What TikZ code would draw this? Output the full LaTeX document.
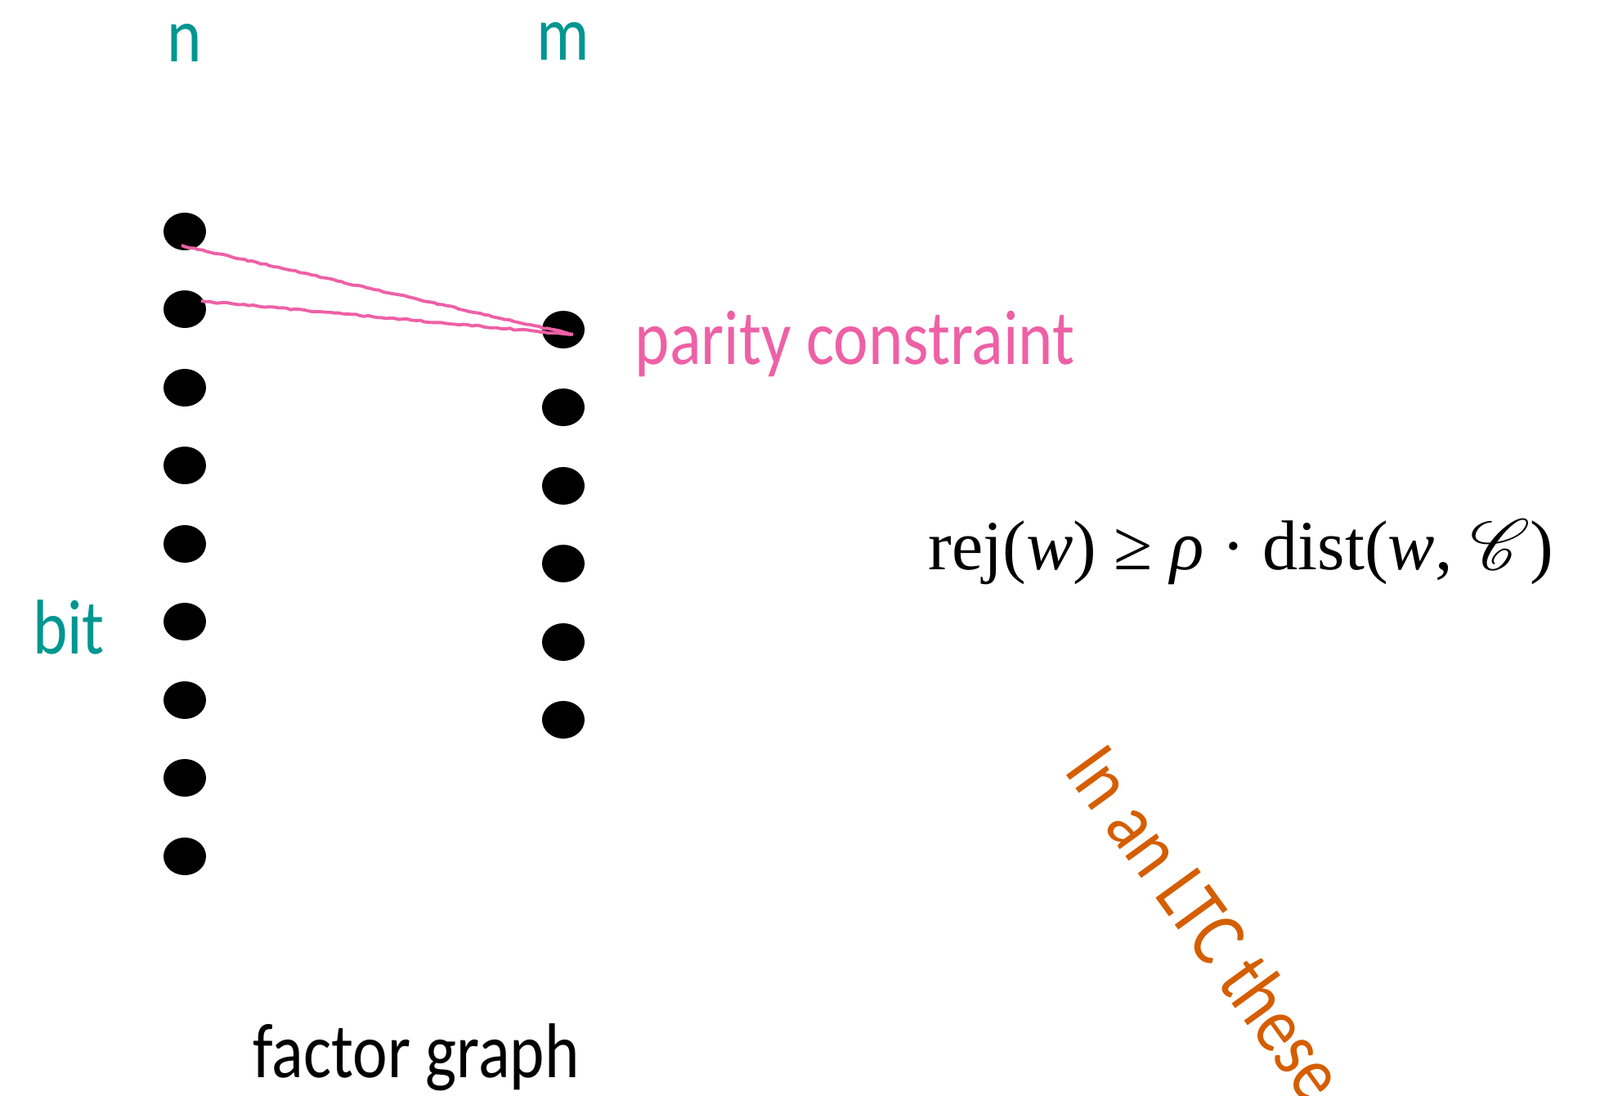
\documentclass[tikz,border=0pt]{standalone}
\usepackage{fontspec}
\usepackage{mathrsfs}
\setmainfont{Liberation Serif}
\newfontfamily\handfont[FakeStretch=0.85]{Carlito}
\usetikzlibrary{shapes.geometric,calc,decorations.pathmorphing}

\definecolor{tealc}{RGB}{0,150,145}
\definecolor{pinkc}{RGB}{238,96,166}
\definecolor{orangec}{RGB}{213,94,0}

\begin{document}
\begin{tikzpicture}[
  vdot/.style={ellipse, fill=black, minimum width=0.52cm, minimum height=0.46cm, inner sep=0pt},
  hand/.style={font=\handfont\fontsize{27}{30}\selectfont, inner sep=0pt},
  edge/.style={draw=pinkc, line width=1.1pt, decorate,
    decoration={random steps, segment length=1.5pt, amplitude=0.25pt}}
]
  \useasboundingbox (0,0) rectangle (19.57,-13.39);

  % bits
  \node[vdot] (b1) at (2.26,-2.83)  {};
  \node[vdot] (b2) at (2.26,-3.78)  {};
  \node[vdot] (b3) at (2.26,-4.74)  {};
  \node[vdot] (b4) at (2.26,-5.69)  {};
  \node[vdot] (b5) at (2.26,-6.65)  {};
  \node[vdot] (b6) at (2.26,-7.60)  {};
  \node[vdot] (b7) at (2.26,-8.56)  {};
  \node[vdot] (b8) at (2.26,-9.51)  {};
  \node[vdot] (b9) at (2.26,-10.47) {};

  % checks
  \node[vdot] (c1) at (6.89,-4.03) {};
  \node[vdot] (c2) at (6.89,-4.98) {};
  \node[vdot] (c3) at (6.89,-5.94) {};
  \node[vdot] (c4) at (6.89,-6.89) {};
  \node[vdot] (c5) at (6.89,-7.85) {};
  \node[vdot] (c6) at (6.89,-8.80) {};

  \node[hand, text=tealc] (nlab)   at (2.26,-0.52) {n};
  \node[hand, text=tealc] (mlab)   at (6.89,-0.50) {m};
  \node[hand, text=tealc] (bitlab) at (0.84,-7.67) {bit};
  \node[hand, text=pinkc, anchor=base west] (parlab) at (7.76,-4.45) {parity constraint};
  \node[hand, text=black, anchor=base] (fglab) at (5.09,-13.17) {factor graph};

  \node[font=\fontsize{24.5}{28}\selectfont, inner sep=0pt, anchor=base] (ineq) at (15.18,-6.96)
    {rej(\textit{w}) ≥ \textit{ρ} · dist(\textit{w}, $\mathscr{C}$)};

  \begin{scope}
    \clip (0,0) rectangle (19.57,-13.39);
    \node[hand, text=orangec, font=\handfont\fontsize{28}{32}\selectfont,
      anchor=base west, rotate=-54] (ltc) at (13.0,-9.42) {In an LTC these};
  \end{scope}

  \draw[edge] ($(b1)+(-0.04,-0.17)$) -- ($(c1)+(0.12,-0.06)$);
  \draw[edge] ($(b2)+(0.20,0.10)$) -- ($(c1)+(0.10,-0.06)$);
\end{tikzpicture}
\end{document}
